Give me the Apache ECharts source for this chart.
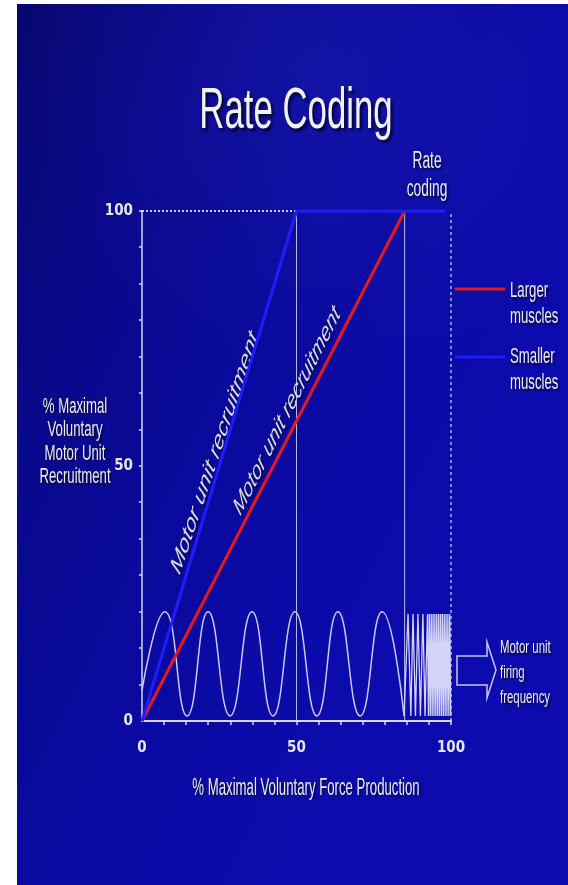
<!DOCTYPE html>
<html>
<head>
<meta charset="utf-8">
<style>
  html, body { margin: 0; padding: 0; background: #ffffff; }
  #chart { width: 568px; height: 885px; }
</style>
<script src="https://cdn.jsdelivr.net/npm/echarts@6/dist/echarts.min.js"></script>
</head>
<body>
<div id="chart"></div>
<script>
// ---------------- data ----------------
const xTickLabels = [0, 50, 100];
const yTickLabels = [0, 50, 100];
const minorTicks = [7.1, 14.3, 21.4, 28.6, 35.7, 42.9, 50, 57.1, 64.3, 71.4, 78.6, 85.7, 92.9, 100];

// recruitment lines
const smallerMuscles = [[0, 0], [50, 100], [98, 100]];
const largerMuscles = [[0, 0], [85, 100]];

// motor unit firing (slow oscillation during recruitment)
const firingWave = [
  [0, 6], [7.4, 21.4], [14.6, 1], [21.4, 21.4], [28.5, 1], [35.6, 21.4], [42.4, 1],
  [49.5, 21.4], [56.6, 1], [63.4, 21.4], [70.6, 1], [77.7, 21.4], [84.8, 1]
];
// rate coding region (high frequency firing)
const rateCodingWave = [
  [84.8, 1], [86.1, 21], [87, 1], [87.7, 21], [88.5, 1], [89.3, 21], [90.1, 1], [90.9, 21],
  [91.6, 1], [92.4, 21], [92.7, 1], [93, 21], [93.3, 1], [93.6, 21], [93.9, 1], [94.2, 21],
  [94.5, 1], [94.8, 21], [95.1, 1], [95.4, 21], [95.7, 1], [96, 21], [96.3, 1], [96.6, 21],
  [96.9, 1], [97.2, 21], [97.5, 1], [97.8, 21], [98.1, 1], [98.4, 21], [98.7, 1], [99, 21],
  [99.3, 1], [99.6, 21], [99.9, 1]
];

// reference lines
const guide50 = [[50, 0], [50, 100]];
const guide85 = [[85, 0], [85, 100]];
const edge100 = [[100, 0], [100, 100]];
const top100 = [[0, 100], [50, 100]];

// texts
const titleText = 'Rate Coding';
const yTitle = '% Maximal\nVoluntary\nMotor Unit\nRecruitment';
const xTitle = '% Maximal Voluntary Force Production';
const rateCodingLabel = 'Rate\ncoding';
const legendLarger = 'Larger\nmuscles';
const legendSmaller = 'Smaller\nmuscles';
const recruitLabel = 'Motor unit recruitment';
const firingLabel = 'Motor unit\nfiring\nfrequency';

// ---------------- style ----------------
const SANS = "'Liberation Sans', Arial, Helvetica, sans-serif";
const NARROW = "'Liberation Sans Narrow', 'DejaVu Sans Condensed', 'Liberation Sans', sans-serif";
const SQ = 0.6; // horizontal squash of the source picture
const TXT = '#ececf4';
const RED = '#e41a1a';
const BLUE = '#1e1efa';
const WAVE = '#c9c9f2';

function sqText(x, y, text, o) {
  o = o || {};
  const align = o.align || 'center';
  return {
    type: 'group', x: x, y: y, scaleX: SQ, scaleY: o.scaleY || 1, z: 50, silent: true,
    children: [{
      type: 'text', x: 0, y: 0, rotation: o.rotation || 0,
      style: {
        text: text,
        fill: o.fill || TXT,
        fontFamily: SANS,
        fontSize: o.size || 22,
        fontWeight: o.weight || 'normal',
        fontStyle: o.italic ? 'italic' : 'normal',
        lineHeight: o.lineHeight || Math.round((o.size || 22) * 1.15),
        align: align, textAlign: align,
        verticalAlign: 'middle', textVerticalAlign: 'middle',
        textShadowColor: 'rgba(0,0,30,0.8)',
        textShadowBlur: o.shadowBlur || 2,
        textShadowOffsetX: o.shadowOff || 1.5,
        textShadowOffsetY: o.shadowOff || 1.5
      }
    }]
  };
}

const chart = echarts.init(document.getElementById('chart'), null, { renderer: 'canvas' });

function lineSeries(name, data, color, width, type, smooth, z) {
  return {
    name: name, type: 'line', data: data, showSymbol: false, symbol: 'none',
    smooth: smooth || false, z: z || 2, silent: true,
    lineStyle: { color: color, width: width, type: type || 'solid' }
  };
}

const option = {
  animation: false,
  backgroundColor: '#ffffff',
  grid: { left: 142, right: 117, top: 211, bottom: 164, containLabel: false },
  xAxis: {
    type: 'value', min: 0, max: 100,
    splitLine: { show: false },
    axisLine: { show: true, lineStyle: { color: '#d6d6ee', width: 2 } },
    axisTick: { show: true, customValues: minorTicks, length: 4, lineStyle: { color: '#d6d6ee', width: 1.5 } },
    axisLabel: {
      customValues: xTickLabels, margin: 20, color: '#e6e6f2',
      fontFamily: NARROW, fontSize: 15, fontWeight: 'bold'
    }
  },
  yAxis: {
    type: 'value', min: 0, max: 100,
    splitLine: { show: false },
    axisLine: { show: true, lineStyle: { color: '#d6d6ee', width: 1.5 } },
    axisTick: { show: true, customValues: minorTicks, length: 3, lineStyle: { color: '#d6d6ee', width: 1.5 } },
    axisLabel: {
      customValues: yTickLabels, margin: 9, color: '#e6e6f2',
      fontFamily: NARROW, fontSize: 15, fontWeight: 'bold'
    }
  },
  series: [
    lineSeries('guide50', guide50, 'rgba(215,215,240,0.85)', 1, 'solid', false, 1),
    lineSeries('guide85', guide85, 'rgba(215,215,240,0.85)', 1, 'solid', false, 1),
    lineSeries('edge100', edge100, 'rgba(225,225,245,0.95)', 1.2, [3, 3], false, 1),
    lineSeries('top100', top100, 'rgba(225,225,245,0.9)', 2, [2, 2], false, 1),
    lineSeries('firing', firingWave, WAVE, 1.5, 'solid', 0.5, 3),
    lineSeries('rateCoding', rateCodingWave, '#d4d4fa', 1.3, 'solid', false, 3),
    lineSeries('Larger muscles', largerMuscles, RED, 3, 'solid', false, 4),
    lineSeries('Smaller muscles', smallerMuscles, BLUE, 3, 'solid', false, 5)
  ],
  graphic: [
    // slide background
    {
      type: 'rect', z: -100, silent: true,
      shape: { x: 17, y: 4, width: 551, height: 881 },
      style: {
        fill: new echarts.graphic.LinearGradient(0, 0, 1, 0.3, [
          { offset: 0, color: '#070770' },
          { offset: 0.35, color: '#09098e' },
          { offset: 0.7, color: '#0a0aa2' },
          { offset: 1, color: '#0c0cae' }
        ])
      }
    },
    {
      type: 'rect', z: -99, silent: true,
      shape: { x: 17, y: 4, width: 551, height: 881 },
      style: {
        fill: new echarts.graphic.RadialGradient(0.55, 0.08, 0.55, [
          { offset: 0, color: 'rgba(40,40,200,0.3)' },
          { offset: 1, color: 'rgba(40,40,200,0)' }
        ])
      }
    },
    // title and annotations
    sqText(296, 112, titleText, { size: 58, fill: '#f2f2f2', shadowBlur: 3, shadowOff: 2.5 }),
    sqText(427, 176, rateCodingLabel, { size: 23, lineHeight: 28 }),
    sqText(75, 442, yTitle, { size: 22, lineHeight: 23.5 }),
    sqText(306, 788, xTitle, { size: 22, scaleY: 1.1 }),
    sqText(215, 453, recruitLabel, { size: 28, italic: true, rotation: 61 * Math.PI / 180, fill: '#dcdce8' }),
    sqText(287, 411, recruitLabel, { size: 27, italic: true, rotation: 50.3 * Math.PI / 180, fill: '#dcdce8' }),
    sqText(510, 304, legendLarger, { size: 22, lineHeight: 26, align: 'left' }),
    sqText(510, 370, legendSmaller, { size: 22, lineHeight: 26, align: 'left' }),
    sqText(500, 673, firingLabel, { size: 19, lineHeight: 25, align: 'left' }),
    // legend swatches
    { type: 'line', z: 50, silent: true, shape: { x1: 455, y1: 289, x2: 505, y2: 289 }, style: { stroke: RED, lineWidth: 3 } },
    { type: 'line', z: 50, silent: true, shape: { x1: 455, y1: 357, x2: 505, y2: 357 }, style: { stroke: BLUE, lineWidth: 3 } },
    // hollow arrow
    {
      type: 'polygon', z: 50, silent: true,
      shape: { points: [[457, 656], [487, 656], [487, 642], [496, 670], [487, 698], [487, 685], [457, 685]] },
      style: { fill: 'rgba(0,0,0,0)', stroke: '#c4c4ec', lineWidth: 1.5 }
    }
  ]
};

chart.setOption(option);
</script>
</body>
</html>
